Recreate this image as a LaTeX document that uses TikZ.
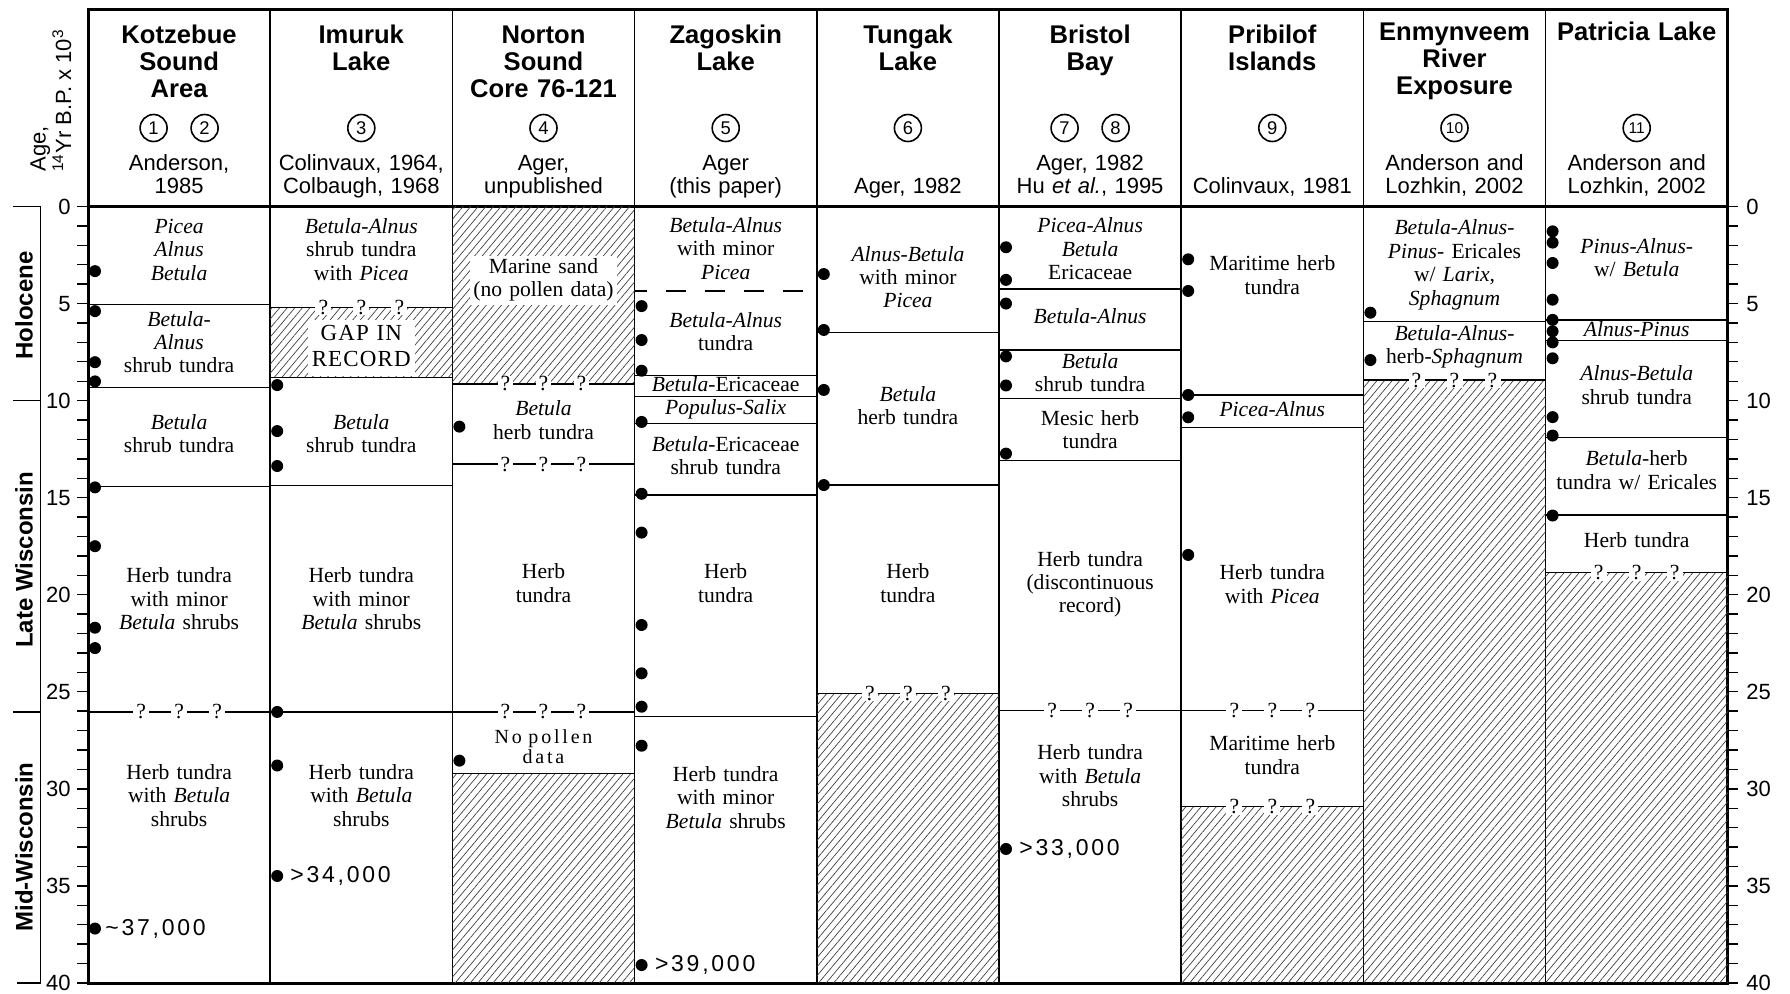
\documentclass[tikz,border=0pt]{standalone}
\usepackage{fontspec}
\setmainfont{Liberation Serif}
\setsansfont{Liberation Sans}
\newfontfamily\datefont[LetterSpace=12]{Liberation Sans}
\newfontfamily\gapfont[LetterSpace=5]{Liberation Serif}
\newfontfamily\widefont[LetterSpace=14]{Liberation Serif}
\usetikzlibrary{patterns.meta}

\begin{document}
\begin{tikzpicture}[
  x=0.5pt, y=-0.5pt,
  site/.style={font=\sffamily\bfseries\fontsize{12.8}{13.6}\selectfont, align=center, text width=88pt,
    anchor=north, inner sep=0pt, execute at begin node=\strut},
  cite/.style={font=\sffamily\fontsize{11}{11.7}\selectfont, align=center, text width=88pt,
    anchor=south, inner sep=0pt, execute at end node=\strut},
  num/.style={draw, circle, line width=0.8pt, minimum size=13.5pt, inner sep=0pt,
    font=\sffamily\fontsize{9.2}{10}\selectfont},
  numtwo/.style={num, font=\sffamily\fontsize{7.8}{8}\selectfont},
  zone/.style={font=\fontsize{10.8}{11.7}\selectfont, align=center, text width=88pt, inner sep=0pt,
    execute at begin node=\strut, execute at end node=\strut},
  tight/.style={zone, font=\fontsize{10.8}{10}\selectfont},
  onhatch/.style={fill=white, inner sep=0.6pt},
  qmark/.style={font=\fontsize{10.8}{11.7}\selectfont, fill=white, inner xsep=1.6pt, inner ysep=0.3pt},
  date/.style={font=\datefont\fontsize{11.5}{12}\selectfont, anchor=west, inner sep=0pt},
  epoch/.style={rotate=90, font=\sffamily\bfseries\fontsize{12}{14}\selectfont, inner sep=0pt},
  agelbl/.style={font=\sffamily\fontsize{11}{12}\selectfont, inner sep=0pt},
  hatch/.style={pattern={Lines[angle=50,distance=2.9pt,line width=0.35pt]}, pattern color=black!75},
  zoneline/.style={line width=0.65pt},
]
\useasboundingbox (0,0) rectangle (1790,993);

% Frame, column rules and header rule
\foreach \x in {270.2,452.4,634.6,816.8,999,1181.2,1363.4,1545.6}
  \draw[line width=0.8pt] (\x,9) -- (\x,983);
\draw[line width=1.1pt] (88,206.5) -- (1727.8,206.5);
\draw[line width=1.5pt] (88,9) rectangle (1727.8,983);

% Site headers
\node[site] (s1) at (179.1,24) {Kotzebue\\Sound\\Area};
\node[site] (s2) at (361.3,24) {Imuruk\\Lake};
\node[site] (s3) at (543.5,24) {Norton\\Sound\\Core 76-121};
\node[site] (s4) at (725.7,24) {Zagoskin\\Lake};
\node[site] (s5) at (907.9,24) {Tungak\\Lake};
\node[site] (s6) at (1090.1,24) {Bristol\\Bay};
\node[site] (s7) at (1272.3,24) {Pribilof\\Islands};
\node[site] (s8) at (1454.5,21) {Enmynveem\\River\\Exposure};
\node[site] (s9) at (1636.7,21) {Patricia Lake};

% Site numbers
\node[num] (n1) at (153.6,128) {1};
\node[num] (n2) at (204.6,128) {2};
\node[num] (n3) at (361.3,128) {3};
\node[num] (n4) at (543.5,128) {4};
\node[num] (n5) at (725.7,128) {5};
\node[num] (n6) at (907.9,128) {6};
\node[num] (n7) at (1064.6,128) {7};
\node[num] (n8) at (1115.6,128) {8};
\node[num] (n9) at (1272.3,128) {9};
\node[numtwo] (n10) at (1454.5,128) {10};
\node[numtwo] (n11) at (1636.7,128) {11};

% Sources
\node[cite] (r1) at (179.1,201) {Anderson,\\1985};
\node[cite] (r2) at (361.3,201) {Colinvaux, 1964,\\Colbaugh, 1968};
\node[cite] (r3) at (543.5,201) {Ager,\\unpublished};
\node[cite] (r4) at (725.7,201) {Ager\\(this paper)};
\node[cite] (r5) at (907.9,201) {Ager, 1982};
\node[cite] (r6) at (1090.1,201) {Ager, 1982\\Hu \textit{et al.}, 1995};
\node[cite] (r7) at (1272.3,201) {Colinvaux, 1981};
\node[cite] (r8) at (1454.5,201) {Anderson and\\Lozhkin, 2002};
\node[cite] (r9) at (1636.7,201) {Anderson and\\Lozhkin, 2002};

% Age axis title
\node[rotate=90, anchor=south west, align=left, inner sep=0pt,
      font=\sffamily\fontsize{11}{11}\selectfont, execute at end node=\strut] (agettl) at (78,172)
  {Age,\\\textsuperscript{14}Yr B.P. x 10\textsuperscript{3}};

\begin{scope}[yshift=-103.25pt, y=-9.705pt]
  % Hatched: no record
  \fill[hatch] (270.2,5.19) rectangle (452.4,8.8);
  \fill[hatch] (452.4,0) rectangle (634.6,9.14);
  \fill[hatch] (452.4,29.2) rectangle (634.6,40);
  \fill[hatch] (816.8,25.08) rectangle (999,40);
  \fill[hatch] (1181.2,30.92) rectangle (1363.4,40);
  \fill[hatch] (1363.4,8.94) rectangle (1545.6,40);
  \fill[hatch] (1545.6,18.87) rectangle (1727.8,40);

  % Zone boundaries
  \foreach \a in {5.04,9.33,14.42,26.04} \draw[zoneline] (88,\a) -- (270.2,\a);
  \foreach \a in {5.19,8.8,14.38,26.04} \draw[zoneline] (270.2,\a) -- (452.4,\a);
  \foreach \a in {9.14,13.27,26.04,29.2} \draw[zoneline] (452.4,\a) -- (634.6,\a);
  \foreach \a in {8.72,9.8,11.17,14.86,26.28} \draw[zoneline] (634.6,\a) -- (816.8,\a);
  \draw[zoneline, dash pattern=on 10pt off 9.5pt, dash phase=4pt] (634.6,4.35) -- (816.8,4.35);
  \foreach \a in {6.5,14.35,25.08} \draw[zoneline] (816.8,\a) -- (999,\a);
  \foreach \a in {4.25,7.39,9.88,13.1,25.95} \draw[zoneline] (999,\a) -- (1181.2,\a);
  \foreach \a in {9.71,11.38,25.95,30.92} \draw[zoneline] (1181.2,\a) -- (1363.4,\a);
  \foreach \a in {5.93,8.94} \draw[zoneline] (1363.4,\a) -- (1545.6,\a);
  \foreach \a in {5.85,6.91,11.89,15.89,18.87} \draw[zoneline] (1545.6,\a) -- (1727.8,\a);

  % Age scales, left and right
  \foreach \a in {0,...,40} {
    \draw[line width=0.7pt] (77,\a) -- (88,\a);
    \draw[line width=0.7pt] (1727.8,\a) -- (1738,\a);
  }
  \foreach \a in {0,5,...,40} {
    \node[agelbl, anchor=east] (la\a) at (71,\a) {\a};
    \node[agelbl, anchor=west] (ra\a) at (1746,\a) {\a};
  }

  % Epochs
  \draw[line width=0.75pt] (13.3,0) -- (40.7,0) -- (40.7,40) -- (16.7,40);
  \draw[line width=0.75pt] (13.3,10) -- (40.7,10) (13.3,26.04) -- (40.7,26.04);
  \node[epoch] (holo) at (24,5.1) {Holocene};
  \node[epoch] (latew) at (24,18.2) {Late Wisconsin};
  \node[epoch] (midw) at (24,33) {Mid-Wisconsin};

  % Radiocarbon dates
  \foreach \a in {3.33,5.39,8.02,9.01,14.47,17.5,21.7,22.75,37.2} \fill (95,\a) circle[radius=3pt];
  \foreach \a in {9.2,11.57,13.37,26.04,28.8,34.49} \fill (277.2,\a) circle[radius=3pt];
  \foreach \a in {11.34,28.55} \fill (459.4,\a) circle[radius=3pt];
  \foreach \a in {5.13,6.88,8.46,11.1,14.8,16.8,21.56,24.05,25.77,27.78,39.08} \fill (641.6,\a) circle[radius=3pt];
  \foreach \a in {3.48,6.36,9.45,14.35} \fill (823.8,\a) circle[radius=3pt];
  \foreach \a in {2.1,3.78,5.0,7.72,9.22,12.73,33.1} \fill (1006,\a) circle[radius=3pt];
  \foreach \a in {2.72,4.35,9.71,10.86,17.95} \fill (1188.2,\a) circle[radius=3pt];
  \foreach \a in {5.47,7.91} \fill (1370.4,\a) circle[radius=3pt];
  \foreach \a in {1.28,1.86,2.91,4.8,5.84,6.43,7.0,7.82,10.85,11.8,15.92} \fill (1552.6,\a) circle[radius=3pt];

  \node[date] (d1) at (105,37.2) {\textasciitilde 37,000};
  \node[date] (d2) at (290,34.49) {>34,000};
  \node[date] (d4) at (654.6,39.08) {>39,000};
  \node[date] (d6) at (1019,33.1) {>33,000};

  % Kotzebue Sound Area
  \node[zone] (k1) at (179.1,2.35) {\textit{Picea}\\\textit{Alnus}\\\textit{Betula}};
  \node[zone] (k2) at (179.1,7.13) {\textit{Betula-}\\\textit{Alnus}\\shrub tundra};
  \node[zone] (k3) at (179.1,11.83) {\textit{Betula}\\shrub tundra};
  \node[zone] (k4) at (179.1,20.36) {Herb tundra\\with minor\\\textit{Betula} shrubs};
  \node[zone] (k5) at (179.1,30.47) {Herb tundra\\with \textit{Betula}\\shrubs};

  % Imuruk Lake
  \node[zone] (i1) at (361.3,2.35) {\textit{Betula-Alnus}\\shrub tundra\\with \textit{Picea}};
  \node[zone, onhatch, text width=52pt, font=\gapfont\fontsize{11.5}{13.3}\selectfont] (i2) at (361.3,7.3) {GAP IN\\RECORD};
  \node[zone] (i3) at (361.3,11.83) {\textit{Betula}\\shrub tundra};
  \node[zone] (i4) at (361.3,20.36) {Herb tundra\\with minor\\\textit{Betula} shrubs};
  \node[zone] (i5) at (361.3,30.47) {Herb tundra\\with \textit{Betula}\\shrubs};

  % Norton Sound
  \node[zone, onhatch, text width=72pt] (o1) at (543.5,3.8) {Marine sand\\(no pollen data)};
  \node[zone] (o2) at (543.5,11.15) {\textit{Betula}\\herb tundra};
  \node[zone] (o3) at (543.5,19.55) {Herb\\tundra};
  \node[zone, font=\widefont\fontsize{10}{10}\selectfont] (o4) at (543.5,27.96) {No pollen\\data};

  % Zagoskin Lake
  \node[zone] (z1) at (725.7,2.3) {\textit{Betula-Alnus}\\with minor\\\textit{Picea}};
  \node[zone] (z2) at (725.7,6.6) {\textit{Betula-Alnus}\\tundra};
  \node[zone] (z3) at (725.7,9.28) {\textit{Betula}-Ericaceae};
  \node[zone] (z4) at (725.7,10.48) {\textit{Populus-Salix}};
  \node[zone] (z5) at (725.7,12.97) {\textit{Betula}-Ericaceae\\shrub tundra};
  \node[zone] (z6) at (725.7,19.55) {Herb\\tundra};
  \node[zone] (z7) at (725.7,30.58) {Herb tundra\\with minor\\\textit{Betula} shrubs};

  % Tungak Lake
  \node[zone] (t1) at (907.9,3.78) {\textit{Alnus-Betula}\\with minor\\\textit{Picea}};
  \node[zone] (t2) at (907.9,10.4) {\textit{Betula}\\herb tundra};
  \node[zone] (t3) at (907.9,19.55) {Herb\\tundra};

  % Bristol Bay
  \node[zone] (b1) at (1090.1,2.31) {\textit{Picea-Alnus}\\\textit{Betula}\\Ericaceae};
  \node[zone] (b2) at (1090.1,5.8) {\textit{Betula-Alnus}};
  \node[tight] (b3) at (1090.1,8.71) {\textit{Betula}\\shrub tundra};
  \node[zone] (b4) at (1090.1,11.62) {Mesic herb\\tundra};
  \node[zone] (b5) at (1090.1,19.49) {Herb tundra\\(discontinuous\\record)};
  \node[zone] (b6) at (1090.1,29.46) {Herb tundra\\with \textit{Betula}\\shrubs};

  % Pribilof Islands
  \node[zone] (p1) at (1272.3,3.68) {Maritime herb\\tundra};
  \node[zone] (p2) at (1272.3,10.6) {\textit{Picea-Alnus}};
  \node[zone] (p3) at (1272.3,19.6) {Herb tundra\\with \textit{Picea}};
  \node[zone] (p4) at (1272.3,28.4) {Maritime herb\\tundra};

  % Enmynveem River Exposure
  \node[zone] (e1) at (1454.5,3.03) {\textit{Betula-Alnus-}\\\textit{Pinus-} Ericales\\w/ \textit{Larix,}\\\textit{Sphagnum}};
  \node[tight] (e2) at (1454.5,7.27) {\textit{Betula-Alnus-}\\herb-\textit{Sphagnum}};

  % Patricia Lake
  \node[zone] (l1) at (1636.7,2.76) {\textit{Pinus-Alnus-}\\w/ \textit{Betula}};
  \node[zone] (l2) at (1636.7,6.45) {\textit{Alnus-Pinus}};
  \node[zone] (l3) at (1636.7,9.35) {\textit{Alnus-Betula}\\shrub tundra};
  \node[zone] (l4) at (1636.7,13.73) {\textit{Betula}-herb\\tundra w/ Ericales};
  \node[zone] (l5) at (1636.7,17.35) {Herb tundra};

  % Uncertain boundaries
  \foreach \cx/\ag/\nm in {179.1/26.04/k, 361.3/5.19/i, 543.5/9.14/oa, 543.5/13.27/ob,
      543.5/26.04/oc, 907.9/25.08/t, 1090.1/25.95/b, 1272.3/25.95/pa, 1272.3/30.92/pb,
      1454.5/8.94/e, 1636.7/18.87/l}
    \foreach \dx/\k in {-38/1, 0/2, 38/3}
      \node[qmark] (q\nm\k) at ({\cx+\dx},\ag) {?};
\end{scope}
\end{tikzpicture}
\end{document}
